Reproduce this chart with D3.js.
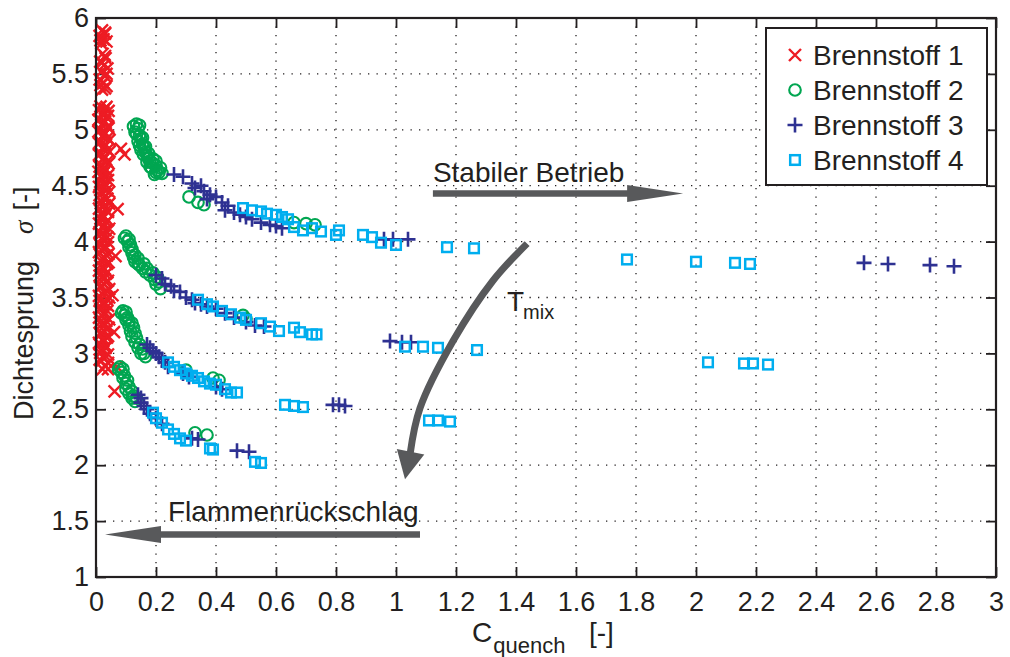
<!DOCTYPE html>
<html><head><meta charset="utf-8">
<script src="https://cdn.jsdelivr.net/npm/d3@7"></script>
<style>
body{margin:0;background:#fff}
svg{display:block}
text{font-family:"Liberation Sans",Arial,Helvetica,sans-serif;fill:#231f20}
</style>
</head><body>
<svg id="c" width="1010" height="657"></svg>
<script>
// ---------- data ----------
const xTicks = [0,0.2,0.4,0.6,0.8,1,1.2,1.4,1.6,1.8,2,2.2,2.4,2.6,2.8,3];
const yTicks = [1,1.5,2,2.5,3,3.5,4,4.5,5,5.5,6];
const seriesNames = ["Brennstoff 1","Brennstoff 2","Brennstoff 3","Brennstoff 4"];
const seriesColors = ["#ed1c24","#00a651","#2e3192","#00aeef"];
const seriesMarkers = ["x","o","+","s"];

const b1 = [
[0.020,5.89],[0.030,5.86],[0.012,5.84],[0.025,5.81],[0.035,5.79],[0.018,5.77],[0.030,5.87],[0.015,5.80],
[0.022,5.68],[0.032,5.64],[0.014,5.61],[0.028,5.58],[0.038,5.55],[0.018,5.52],[0.030,5.48],[0.012,5.45],[0.025,5.42],[0.035,5.39],[0.020,5.36],[0.030,5.66],[0.020,5.60],[0.035,5.50],[0.015,5.40],[0.030,5.37],
[0.015,5.21],[0.030,5.19],[0.042,5.17],[0.020,5.14],[0.035,5.11],[0.008,5.09],[0.026,5.06],[0.040,5.03],[0.015,5.00],[0.032,4.97],[0.020,4.94],[0.045,4.91],[0.010,4.88],[0.028,4.85],[0.038,4.82],[0.016,4.79],[0.030,4.76],[0.022,4.73],[0.042,4.70],[0.012,4.67],[0.034,4.64],[0.024,4.61],[0.018,4.58],[0.040,4.55],[0.028,4.52],[0.010,4.49],[0.036,4.46],[0.020,4.43],[0.030,4.40],[0.014,4.37],[0.044,4.34],[0.024,4.31],[0.034,4.28],[0.016,4.25],[0.028,4.22],[0.040,4.19],[0.010,4.16],[0.022,4.13],[0.032,4.10],[0.018,4.07],[0.038,4.04],[0.026,4.01],[0.012,3.98],[0.034,3.95],[0.020,3.92],[0.042,3.89],[0.028,3.86],[0.015,3.83],[0.036,3.80],[0.024,3.77],[0.010,3.74],[0.032,3.71],[0.020,3.68],[0.040,3.65],[0.026,3.62],[0.014,3.59],[0.034,3.56],[0.022,3.53],[0.044,3.50],[0.012,3.47],[0.030,3.44],[0.018,3.41],[0.038,3.38],[0.026,3.35],[0.010,3.32],[0.034,3.29],[0.020,3.26],[0.042,3.23],[0.028,3.20],[0.016,3.17],[0.036,3.14],[0.024,3.11],[0.012,3.08],[0.032,3.05],[0.020,3.02],[0.040,2.99],[0.026,2.96],[0.018,2.93],
[0.035,5.205],[0.010,5.175],[0.025,5.155],[0.040,5.125],[0.012,5.095],[0.030,5.075],[0.018,5.045],[0.042,5.015],[0.008,4.985],[0.025,4.955],[0.038,4.925],[0.015,4.895],[0.033,4.865],[0.020,4.835],[0.045,4.805],[0.010,4.775],[0.027,4.745],[0.037,4.715],[0.017,4.685],[0.030,4.655],[0.008,4.625],[0.040,4.595],[0.022,4.565],[0.014,4.535],[0.034,4.505],[0.025,4.475],[0.044,4.445],[0.012,4.415],[0.038,4.385],[0.020,4.355],[0.030,4.325],[0.010,4.295],[0.040,4.265],[0.022,4.235],[0.015,4.205],[0.034,4.175],[0.026,4.145],[0.044,4.115],[0.012,4.085],[0.028,4.055],[0.020,4.025],[0.040,3.995],[0.016,3.965],[0.030,3.935],[0.010,3.905],[0.036,3.875],[0.022,3.845],[0.042,3.815],[0.014,3.785],[0.030,3.755],[0.038,3.725],[0.012,3.695],[0.026,3.665],[0.034,3.635],[0.018,3.605],[0.044,3.575],[0.028,3.545],[0.010,3.515],[0.036,3.485],[0.022,3.455],[0.040,3.425],[0.014,3.395],[0.030,3.365],[0.020,3.335],[0.044,3.305],[0.012,3.275],[0.028,3.245],[0.036,3.215],[0.018,3.185],[0.040,3.155],[0.026,3.125],[0.010,3.095],[0.034,3.065],[0.022,3.035],[0.014,3.005],[0.032,2.975],[0.012,2.945],[0.040,2.915],
[0.030,2.89],[0.022,2.86],
[0.083,4.83],[0.095,4.78],[0.072,4.29],[0.065,3.87],[0.055,3.52],[0.060,3.19],[0.040,2.86],[0.070,2.88],[0.062,2.66]
];

const b2 = [
[0.135,5.05],[0.140,5.01],[0.130,4.98],[0.145,4.95],[0.150,4.92],[0.140,4.90],[0.155,4.87],[0.160,4.84],[0.150,4.82],[0.165,4.80],[0.170,4.77],[0.175,4.74],[0.180,4.72],[0.190,4.70],[0.200,4.68],[0.185,4.66],[0.205,4.64],[0.210,4.62],[0.195,4.60],
[0.125,5.03],[0.145,5.04],[0.135,4.96],[0.155,4.93],[0.145,4.86],[0.165,4.85],[0.158,4.78],[0.175,4.79],[0.170,4.71],[0.190,4.74],[0.200,4.72],[0.215,4.66],[0.220,4.61],[0.200,4.62],[0.180,4.67],
[0.310,4.40],[0.340,4.35],[0.360,4.33],
[0.660,4.17],[0.700,4.16],[0.730,4.15],
[0.100,4.05],[0.105,4.00],[0.110,3.95],[0.120,3.90],[0.125,3.86],[0.130,3.82],[0.145,3.79],[0.155,3.76],[0.165,3.73],[0.180,3.70],[0.195,3.66],[0.200,3.62],[0.215,3.58],
[0.095,4.03],[0.110,4.02],[0.115,3.97],[0.120,3.93],[0.130,3.88],[0.140,3.85],[0.140,3.80],[0.160,3.80],[0.170,3.76],[0.190,3.72],[0.205,3.68],[0.210,3.64],
[0.490,3.34],[0.500,3.31],
[0.090,3.38],[0.095,3.34],[0.100,3.30],[0.110,3.25],[0.115,3.20],[0.120,3.15],[0.130,3.10],[0.140,3.05],[0.150,3.00],[0.165,2.97],
[0.085,3.36],[0.100,3.37],[0.105,3.32],[0.110,3.29],[0.120,3.27],[0.125,3.23],[0.130,3.18],[0.135,3.14],[0.145,3.08],[0.155,3.04],[0.160,3.00],
[0.300,2.85],[0.390,2.78],[0.410,2.76],
[0.080,2.88],[0.085,2.83],[0.090,2.78],[0.100,2.73],[0.100,2.68],[0.110,2.64],[0.120,2.60],[0.130,2.57],
[0.075,2.86],[0.090,2.86],[0.095,2.80],[0.105,2.76],[0.110,2.70],[0.120,2.66],[0.125,2.62],[0.135,2.60],
[0.330,2.29],[0.370,2.27]
];

const b3 = [
[0.260,4.60],[0.290,4.58],[0.320,4.52],[0.330,4.48],[0.350,4.50],[0.360,4.45],[0.380,4.42],[0.370,4.38],[0.400,4.40],[0.420,4.35],[0.440,4.32],[0.430,4.28],[0.460,4.26],[0.480,4.24],[0.500,4.22],[0.520,4.20],[0.550,4.17],[0.580,4.15],[0.600,4.14],[0.620,4.12],
[0.960,4.02],[0.990,4.02],[1.040,4.02],
[2.560,3.81],[2.640,3.80],[2.780,3.79],[2.860,3.78],
[0.200,3.70],[0.220,3.67],[0.230,3.62],[0.250,3.60],[0.260,3.56],[0.280,3.55],[0.300,3.50],[0.320,3.48],[0.330,3.45],[0.350,3.44],[0.370,3.42],[0.400,3.40],[0.430,3.36],[0.460,3.32],[0.500,3.28],[0.530,3.25],[0.560,3.24],
[0.980,3.11],[1.020,3.10],[1.050,3.10],
[0.170,3.08],[0.180,3.05],[0.190,3.02],[0.200,3.00],[0.210,2.97],[0.220,2.95],[0.230,2.92],[0.240,2.88],[0.290,2.82],[0.310,2.79],[0.400,2.70],[0.420,2.68],
[0.790,2.54],[0.810,2.54],[0.830,2.53],
[0.140,2.63],[0.150,2.60],[0.150,2.56],[0.160,2.53],[0.170,2.50],[0.180,2.46],[0.200,2.42],[0.220,2.37],[0.320,2.24],[0.340,2.23],[0.470,2.13],[0.510,2.12]
];

const b4 = [
[0.490,4.30],[0.520,4.28],[0.550,4.27],[0.570,4.25],[0.600,4.24],[0.620,4.22],[0.640,4.20],[0.660,4.13],[0.690,4.10],[0.720,4.12],[0.750,4.09],[0.800,4.06],[0.810,4.10],[0.890,4.06],[0.920,4.04],[0.950,3.99],[1.000,3.97],[1.170,3.95],[1.260,3.94],
[1.770,3.84],[2.000,3.82],[2.130,3.81],[2.180,3.80],
[0.340,3.48],[0.370,3.44],[0.390,3.42],[0.420,3.38],[0.450,3.35],[0.480,3.32],[0.500,3.30],[0.550,3.27],[0.580,3.24],[0.610,3.20],[0.660,3.23],[0.680,3.19],[0.720,3.17],[0.735,3.17],
[1.030,3.06],[1.090,3.06],[1.140,3.05],[1.270,3.03],
[2.040,2.92],[2.160,2.91],[2.190,2.91],[2.240,2.90],
[0.240,2.92],[0.260,2.88],[0.280,2.85],[0.300,2.82],[0.320,2.80],[0.340,2.78],[0.360,2.75],[0.380,2.73],[0.400,2.72],[0.430,2.68],[0.450,2.65],[0.470,2.65],
[0.630,2.54],[0.660,2.53],[0.690,2.52],
[1.110,2.40],[1.140,2.40],[1.180,2.39],
[0.190,2.47],[0.200,2.42],[0.220,2.38],[0.240,2.32],[0.260,2.28],[0.280,2.24],[0.300,2.22],[0.380,2.15],[0.390,2.14],[0.530,2.03],[0.550,2.02]
];
const allSeries = [b1,b2,b3,b4];

// annotations in data coordinates
const arrowStable = {x0:1.123, x1:1.957, y:4.43, label:"Stabiler Betrieb", lx:1.123, ly:4.53};
const arrowFlash  = {x0:1.08, x1:0.03, y:1.38, label:"Flammenrückschlag", lx:0.24, ly:1.50};
const curvePts = [[1.437,3.982],[1.323,3.65],[1.19,3.11],[1.08,2.51],[1.047,2.10]];
const curveTip = [1.03,1.875];
const tmixPos = [1.37,3.38];

// ---------- chart ----------
const svg = d3.select("#c");
const L=96, R=996, T=18, B=577;
const x = d3.scaleLinear().domain([0,3]).range([L,R]);
const y = d3.scaleLinear().domain([1,6]).range([B,T]);
const fmt = d => String(+d.toFixed(1));

// grid
const grid = svg.append("g").attr("stroke","#231f20").attr("stroke-width",1.3).attr("stroke-dasharray","1.3,7.2");
grid.selectAll(".gx").data(xTicks.slice(1,-1)).join("line")
  .attr("x1",d=>x(d)).attr("x2",d=>x(d)).attr("y1",T).attr("y2",B);
grid.selectAll(".gy").data(yTicks.slice(1,-1)).join("line")
  .attr("y1",d=>y(d)).attr("y2",d=>y(d)).attr("x1",L).attr("x2",R);

// axes
const ax = (g)=>{g.select(".domain").remove(); g.selectAll("line").attr("stroke","#231f20").attr("stroke-width",1.8);
  g.selectAll("text").style("font-size","27px").attr("fill","#231f20").style("font-family",'"Liberation Sans",Arial,sans-serif');};
svg.append("g").attr("transform",`translate(0,${B})`)
  .call(d3.axisBottom(x).tickValues(xTicks).tickFormat(fmt).tickSizeInner(-10).tickSizeOuter(0).tickPadding(15)).call(ax);
svg.append("g").attr("transform",`translate(0,${T})`)
  .call(d3.axisTop(x).tickValues(xTicks).tickFormat("").tickSizeInner(-10).tickSizeOuter(0)).call(ax);
svg.append("g").attr("transform",`translate(${L},0)`)
  .call(d3.axisLeft(y).tickValues(yTicks).tickFormat(fmt).tickSizeInner(-10).tickSizeOuter(0).tickPadding(7)).call(ax);
svg.append("g").attr("transform",`translate(${R},0)`)
  .call(d3.axisRight(y).tickValues(yTicks).tickFormat("").tickSizeInner(-10).tickSizeOuter(0)).call(ax);

// markers
function marker(sel, type, color){
  if(type==="x") sel.append("path").attr("d","M-6,-6L6,6M-6,6L6,-6").attr("stroke",color).attr("stroke-width",2.4).attr("fill","none");
  else if(type==="o") sel.append("circle").attr("r",5.8).attr("stroke",color).attr("stroke-width",2.1).attr("fill","none");
  else if(type==="+") sel.append("path").attr("d","M-7.5,0H7.5M0,-7.5V7.5").attr("stroke",color).attr("stroke-width",2.6).attr("fill","none");
  else sel.append("rect").attr("x",-4.8).attr("y",-4.8).attr("width",9.6).attr("height",9.6).attr("stroke",color).attr("stroke-width",2.5).attr("fill","none");
}
allSeries.forEach((data,i)=>{
  const g = svg.append("g");
  g.selectAll("g").data(data).join("g")
    .attr("transform",d=>`translate(${x(d[0])},${y(d[1])})`)
    .each(function(){ marker(d3.select(this), seriesMarkers[i], seriesColors[i]); });
});

// frame
svg.append("rect").attr("x",L).attr("y",T).attr("width",R-L).attr("height",B-T)
  .attr("fill","none").attr("stroke","#231f20").attr("stroke-width",2.2);

// annotations
const gray = "#58595b";
function hArrow(a){
  const xs = x(a.x0), xe = x(a.x1), yy = y(a.y);
  const dir = Math.sign(xe-xs), hl = 56, hw = 8.5;
  svg.append("line").attr("x1",xs).attr("x2",xe-dir*hl+dir*2).attr("y1",yy).attr("y2",yy)
    .attr("stroke",gray).attr("stroke-width",6.5);
  svg.append("path").attr("d",`M${xe},${yy}L${xe-dir*hl},${yy-hw}L${xe-dir*hl},${yy+hw}Z`).attr("fill",gray);
  svg.append("text").attr("x",x(a.lx)).attr("y",y(a.ly)).style("font-size","28px").text(a.label);
}
hArrow(arrowStable);
hArrow(arrowFlash);

const cpx = curvePts.map(p=>[x(p[0]),y(p[1])]);
svg.append("path").attr("d",d3.line().curve(d3.curveCatmullRom)(cpx))
  .attr("fill","none").attr("stroke",gray).attr("stroke-width",7);
{
  const tip=[x(curveTip[0]),y(curveTip[1])], base=cpx[cpx.length-1];
  const dx=tip[0]-base[0], dy=tip[1]-base[1], len=Math.hypot(dx,dy);
  const ux=dx/len, uy=dy/len, px=-uy, py=ux, hw=14;
  const b0=[tip[0]-ux*28, tip[1]-uy*28];
  svg.append("path").attr("d",`M${tip[0]},${tip[1]}L${b0[0]+px*hw},${b0[1]+py*hw}L${b0[0]-px*hw},${b0[1]-py*hw}Z`).attr("fill",gray);
}
const tm = svg.append("text").attr("x",x(tmixPos[0])).attr("y",y(tmixPos[1])).style("font-size","28px");
tm.append("tspan").text("T");
tm.append("tspan").attr("dy",8).attr("dx",-1).style("font-size","20px").text("mix");

// axis labels
const xl = svg.append("text").attr("y",642).style("font-size","28px");
xl.append("tspan").attr("x",472).text("C");
xl.append("tspan").attr("dy",11).attr("dx",1).style("font-size","22px").text("quench");
xl.append("tspan").attr("dy",-11).attr("x",589).text("[-]");

const yl = svg.append("text").attr("transform","translate(33,420) rotate(-90)").style("font-size","27px");
yl.append("tspan").text("Dichtesprung");
yl.append("tspan").attr("dx",27).style("font-family",'"Liberation Serif",serif').style("font-style","italic").text("σ");
yl.append("tspan").attr("dx",10).text("[-]");

// legend
const lg = svg.append("g");
lg.append("rect").attr("x",766).attr("y",28).attr("width",221).attr("height",157)
  .attr("fill","#fff").attr("stroke","#231f20").attr("stroke-width",2);
seriesNames.forEach((n,i)=>{
  const cy = 55 + i*35;
  const m = lg.append("g").attr("transform",`translate(795,${cy})`);
  marker(m, seriesMarkers[i], seriesColors[i]);
  lg.append("text").attr("x",813).attr("y",cy+10).style("font-size","28px").text(n);
});
</script>
</body></html>
